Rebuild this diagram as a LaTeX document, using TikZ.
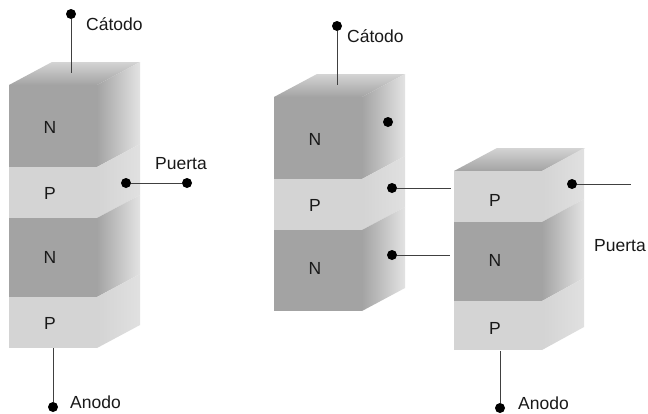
\documentclass[tikz,border=0pt]{standalone}
\usepackage{fontspec}
\setmainfont{Liberation Sans}
\newcommand{\tFace}[4]{% x, ytop, yback, unused
  \shade[top color=black!17, bottom color=black!36]
    (#1,#2) -- ++(43,-23) -- ++(88,0) -- ++(-43,23) -- cycle;}
\newcommand{\nSlab}[4]{% xleft, ytop, ybot, depth
  \fill[nfront] (#1,#2) rectangle (#1+88,#3);
  \shade[left color=black!36, right color=black!11]
    (#1+88,#2) -- ++(#4,-23) -- (#1+88+#4,#3-23) -- (#1+88,#3) -- cycle;}
\newcommand{\pSlab}[4]{%
  \fill[pfront] (#1,#2) rectangle (#1+88,#3);
  \shade[left color=black!17, right color=black!12]
    (#1+88,#2) -- ++(#4,-23) -- (#1+88+#4,#3-23) -- (#1+88,#3) -- cycle;}
\tikzset{
  x=1pt,y=-1pt,
  nfront/.style={fill=black!36},
  pfront/.style={fill=black!17},
  dotnode/.style={circle,fill=black,inner sep=0pt,minimum size=10pt},
  lbl/.style={inner sep=0pt,font=\fontsize{17.5pt}{19pt}\selectfont,text=black!90},
  wire/.style={draw=black!75,line width=1pt}
}
\begin{document}
\begin{tikzpicture}
\useasboundingbox (0,0) rectangle (648,413);
\fill[white] (0,0) rectangle (648,413);
% left block
\tFace{9}{85}{62}{}
\nSlab{9}{85}{167}{43}
\pSlab{9}{167}{218}{43}
\nSlab{9}{218}{297}{43}
\pSlab{9}{297}{348}{43}
\node[lbl] (ln1) at (50,127) {N};
\node[lbl] (lp1) at (50,193) {P};
\node[lbl] (ln2) at (50,257) {N};
\node[lbl] (lp2) at (50,323) {P};
\node[dotnode] (lc) at (71,14) {};
\coordinate (lce) at (71,73);
\draw[wire] (lc) -- (lce);
\node[dotnode] (lg1) at (126,183) {};
\node[dotnode] (lg2) at (187,183) {};
\draw[wire] (lg1) -- (lg2);
\node[dotnode] (la) at (53,407) {};
\coordinate (lae) at (53,348);
\draw[wire] (la) -- (lae);
\node[lbl,anchor=west] (tlc) at (86,24) {Cátodo};
\node[lbl,anchor=west] (tlg) at (155,164) {Puerta};
\node[lbl,anchor=west] (tla) at (70,402) {Anodo};
% middle block
\tFace{274}{97}{74}{}
\nSlab{274}{97}{179}{43}
\pSlab{274}{179}{230}{43}
\nSlab{274}{230}{311}{43}
\node[lbl] (mn1) at (315,139) {N};
\node[lbl] (mp1) at (315,205) {P};
\node[lbl] (mn2) at (315,268) {N};
\node[dotnode] (mc) at (337,26) {};
\coordinate (mce) at (337,85);
\draw[wire] (mc) -- (mce);
\node[dotnode] (md) at (388,122) {};
\node[dotnode] (mg1) at (392,188) {};
\coordinate (mg1e) at (451,188);
\draw[wire] (mg1) -- (mg1e);
\node[dotnode] (mg2) at (392,255) {};
\coordinate (mg2e) at (450,255);
\draw[wire] (mg2) -- (mg2e);
\node[lbl,anchor=west] (tmc) at (347,36) {Cátodo};
% right block
\tFace{454}{171}{148}{}
\pSlab{454}{171}{222}{42}
\nSlab{454}{222}{301}{42}
\pSlab{454}{301}{350}{42}
\node[lbl] (rp1) at (495,200) {P};
\node[lbl] (rn) at (495,260) {N};
\node[lbl] (rp2) at (495,328) {P};
\node[dotnode] (rg) at (572,184) {};
\coordinate (rge) at (631,184);
\draw[wire] (rg) -- (rge);
\node[dotnode] (ra) at (500,408) {};
\coordinate (rae) at (500,351);
\draw[wire] (ra) -- (rae);
\node[lbl,anchor=west] (trg) at (594,246) {Puerta};
\node[lbl,anchor=west] (tra) at (518,403.5) {Anodo};
\end{tikzpicture}
\end{document}
